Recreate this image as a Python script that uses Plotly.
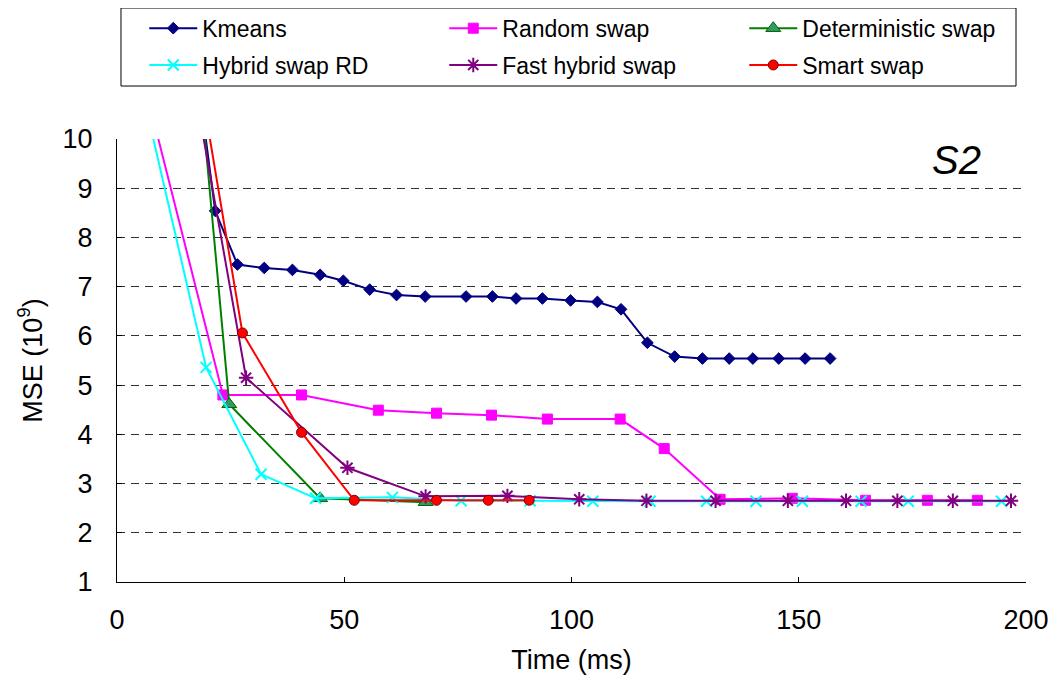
import plotly.graph_objects as go

# ---- data ----
kmeans_x = [17, 21.6, 26.5, 32.4, 38.6, 44.7, 49.8, 55.6, 61.5, 67.8, 76.8, 82.6, 87.8, 93.6,
            99.8, 105.7, 110.9, 116.7, 122.7, 128.8, 134.7, 139.9, 145.6, 151.4, 156.9]
kmeans_y = [11.8, 8.54, 7.45, 7.38, 7.34, 7.24, 7.12, 6.94, 6.83, 6.80, 6.80, 6.80, 6.76, 6.76,
            6.72, 6.69, 6.54, 5.86, 5.58, 5.54, 5.54, 5.54, 5.54, 5.54, 5.54]

random_x = [5, 23.3, 40.6, 57.5, 70.3, 82.4, 94.7, 110.7, 120.4, 132.7, 148.6, 164.7, 178.3, 189.3]
random_y = [11.5, 4.80, 4.80, 4.49, 4.43, 4.39, 4.31, 4.31, 3.71, 2.68, 2.70, 2.66, 2.66, 2.66]

det_x = [17.5, 24.7, 44.7, 67.9]
det_y = [11.9, 4.61, 2.70, 2.62]

hybrid_x = [4, 19.6, 31.7, 43.7, 60.6, 75.7, 90.9, 104.7, 117.3, 129.7, 140.6, 150.8, 163.7, 174.1, 194.6]
hybrid_y = [11.6, 5.36, 3.19, 2.70, 2.72, 2.65, 2.65, 2.64, 2.64, 2.64, 2.64, 2.64, 2.64, 2.64, 2.64]

fast_x = [16, 28.4, 50.7, 67.9, 85.9, 101.7, 116.5, 131.7, 147.6, 160.4, 171.7, 183.9, 196.7]
fast_y = [11.6, 5.15, 3.32, 2.74, 2.75, 2.68, 2.65, 2.65, 2.65, 2.65, 2.65, 2.65, 2.65]

smart_x = [17, 27.6, 40.6, 52.2, 70.3, 81.7, 90.7]
smart_y = [11.9, 6.06, 4.04, 2.66, 2.66, 2.66, 2.66]

x_ticks = [0, 50, 100, 150, 200]
y_ticks = [1, 2, 3, 4, 5, 6, 7, 8, 9, 10]

FONT = "Liberation Sans, Arial, sans-serif"

fig = go.Figure()

series = [
    ("Kmeans", kmeans_x, kmeans_y, "#000080",
     dict(symbol="diamond", size=9, color="#000080", line=dict(color="#000080", width=1)), "legend"),
    ("Random swap", random_x, random_y, "#FF00FF",
     dict(symbol="square", size=10, color="#FF00FF", line=dict(color="#FF00FF", width=1)), "legend"),
    ("Deterministic swap", det_x, det_y, "#008000",
     dict(symbol="triangle-up", size=13, color="#339966", line=dict(color="#006600", width=1)), "legend"),
    ("Hybrid swap RD", hybrid_x, hybrid_y, "#00FFFF",
     dict(symbol="x-thin-open", size=11, color="#00FFFF", line=dict(color="#00FFFF", width=2)), "legend2"),
    ("Fast hybrid swap", fast_x, fast_y, "#800080",
     dict(symbol="asterisk-open", size=12, color="#800080", line=dict(color="#800080", width=2)), "legend2"),
    ("Smart swap", smart_x, smart_y, "#FF0000",
     dict(symbol="circle", size=10, color="#FF0000", line=dict(color="#800000", width=1)), "legend2"),
]

for name, xs, ys, col, mk, lg in series:
    fig.add_trace(go.Scatter(
        x=xs, y=ys, name=name, mode="lines+markers",
        line=dict(color=col, width=2), marker=mk, legend=lg, cliponaxis=True,
    ))

legend_common = dict(
    orientation="h", xanchor="left", yanchor="middle",
    font=dict(family=FONT, size=23, color="black"),
    bgcolor="rgba(0,0,0,0)", borderwidth=0,
    itemwidth=48, entrywidth=237, entrywidthmode="pixels",
    tracegroupgap=0,
)

# the page body adds an 8px offset; the figure is sized to compensate
fig.update_layout(
    width=1048, height=680,
    margin=dict(l=109, r=30, t=131, b=106, autoexpand=False),
    paper_bgcolor="white", plot_bgcolor="white",
    font=dict(family=FONT, size=27, color="black"),
    showlegend=True,
    legend=dict(x=0.03, y=1.25, **legend_common),
    legend2=dict(x=0.03, y=1.167, **legend_common),
    xaxis=dict(
        range=[0, 200], tickvals=x_ticks, ticktext=[str(v) for v in x_ticks],
        showgrid=False, zeroline=False,
        showline=True, linecolor="black", linewidth=1,
        ticks="inside", ticklen=5, tickcolor="black",
        tickfont=dict(family=FONT, size=27, color="black"),
        ticklabelstandoff=14,
        title=dict(text="Time (ms)", font=dict(family=FONT, size=27, color="black"), standoff=15),
    ),
    yaxis=dict(
        range=[1, 10], tickvals=y_ticks, ticktext=[str(v) for v in y_ticks],
        showgrid=True, gridcolor="#333333", gridwidth=1, griddash="8px,6px",
        zeroline=False,
        showline=True, linecolor="black", linewidth=1,
        ticks="inside", ticklen=5, tickcolor="black",
        tickfont=dict(family=FONT, size=27, color="black"),
        ticklabelstandoff=18,
        title=dict(text="MSE (10<sup>9</sup>)", font=dict(family=FONT, size=27, color="black"), standoff=12),
    ),
    shapes=[dict(type="rect", xref="paper", yref="paper",
                 x0=0.0044, x1=0.989, y0=1.1196, y1=1.2957,
                 line=dict(color="black", width=1), fillcolor="rgba(0,0,0,0)", layer="above")],
    annotations=[dict(text="<i>S2</i>", xref="paper", yref="paper", x=0.924, y=0.952,
                      xanchor="center", yanchor="middle", showarrow=False,
                      font=dict(family=FONT, size=40, color="black"))],
)

fig.write_html("out.html")
